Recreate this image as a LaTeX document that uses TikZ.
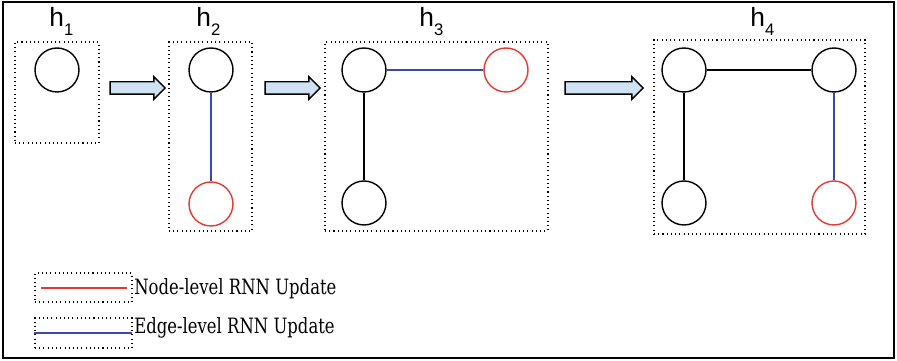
\documentclass[tikz,border=0pt]{standalone}
\usepackage{fontspec}
\setmainfont{DejaVu Serif}[FakeStretch=0.78]
\newfontfamily\labelfont{Liberation Sans}
\usetikzlibrary{shapes.arrows}

\definecolor{nodered}{RGB}{230,57,50}
\definecolor{edgeblue}{RGB}{58,72,170}
\definecolor{arrowfill}{RGB}{207,226,243}

% hidden state label, h with a dropped index
\newcommand{\hstate}[1]{{\labelfont\fontsize{15}{18}\selectfont h\raisebox{-5pt}{\fontsize{9.5}{11}\selectfont #1}}}

\begin{document}
\begin{tikzpicture}[x=0.02cm, y=-0.02cm,
  gnode/.style={circle, draw, line width=0.8pt, minimum size=0.88cm, inner sep=0pt},
  rnode/.style={gnode, draw=nodered},
  dotbox/.style={draw, line width=0.6pt, dash pattern=on 0.6pt off 1.8pt, inner sep=0pt},
  edge/.style={line width=0.8pt},
  blueedge/.style={line width=0.75pt, draw=edgeblue},
  nodeline/.style={line width=0.9pt, draw=nodered},
  nextarrow/.style={single arrow, draw, fill=arrowfill, line width=0.8pt, inner sep=0pt,
    text height=0.22cm, text depth=0pt, single arrow head extend=0.1cm},
  hlabel/.style={anchor=base west, inner sep=0pt},
  legtext/.style={anchor=base west, inner sep=0pt, font=\fontsize{12}{14}\selectfont}]

\useasboundingbox (0,0) rectangle (897,361);
\draw[line width=1.1pt] (3,2) rectangle (894,358);

% step 1
\node[dotbox, minimum width=1.68cm, minimum height=2.02cm] (box1) at (57,92.5) {};
\node[hlabel] (lab1) at (49,27) {\hstate{1}};
\node[gnode] (c1) at (57,70) {};

\node[nextarrow, minimum height=1.1cm] (ar1) at (134.5,88) {};

% step 2
\node[dotbox, minimum width=1.66cm, minimum height=3.78cm] (box2) at (210.5,136.5) {};
\node[hlabel] (lab2) at (196,27) {\hstate{2}};
\node[gnode] (c2a) at (211,70) {};
\node[rnode] (c2b) at (211,204) {};
\draw[blueedge] (c2a) -- (c2b);

\node[nextarrow, minimum height=1.1cm] (ar2) at (289.5,88) {};

% step 3
\node[dotbox, minimum width=4.46cm, minimum height=3.78cm] (box3) at (436.5,136.5) {};
\node[hlabel] (lab3) at (419,27) {\hstate{3}};
\node[gnode] (c3a) at (364,70) {};
\node[gnode] (c3b) at (364,203) {};
\node[rnode] (c3c) at (506,70) {};
\draw[edge] (c3a) -- (c3b);
\draw[blueedge] (c3a) -- (c3c);

\node[nextarrow, minimum height=1.56cm] (ar3) at (601,88) {};

% step 4
\node[dotbox, minimum width=4.22cm, minimum height=3.88cm] (box4) at (759.5,137) {};
\node[hlabel] (lab4) at (750,27) {\hstate{4}};
\node[gnode] (c4a) at (684,70) {};
\node[gnode] (c4b) at (834,70) {};
\node[gnode] (c4c) at (684,203) {};
\node[rnode] (c4d) at (834,203) {};
\draw[edge] (c4a) -- (c4b);
\draw[edge] (c4a) -- (c4c);
\draw[blueedge] (c4b) -- (c4d);

% legend
\node[dotbox, minimum width=1.94cm, minimum height=0.58cm] (lg1) at (83.5,287.5) {};
\coordinate (lg1a) at (41,288);
\coordinate (lg1b) at (127,288);
\draw[nodeline] (lg1a) -- (lg1b);
\node[legtext] (lt1) at (134,295) {Node-level RNN Update};

\node[dotbox, minimum width=1.94cm, minimum height=0.6cm] (lg2) at (83.5,333) {};
\draw[blueedge] (lg2.west) -- ([xshift=-0.02cm]lg2.east);
\node[legtext] (lt2) at (134,334) {Edge-level RNN Update};

\end{tikzpicture}
\end{document}
